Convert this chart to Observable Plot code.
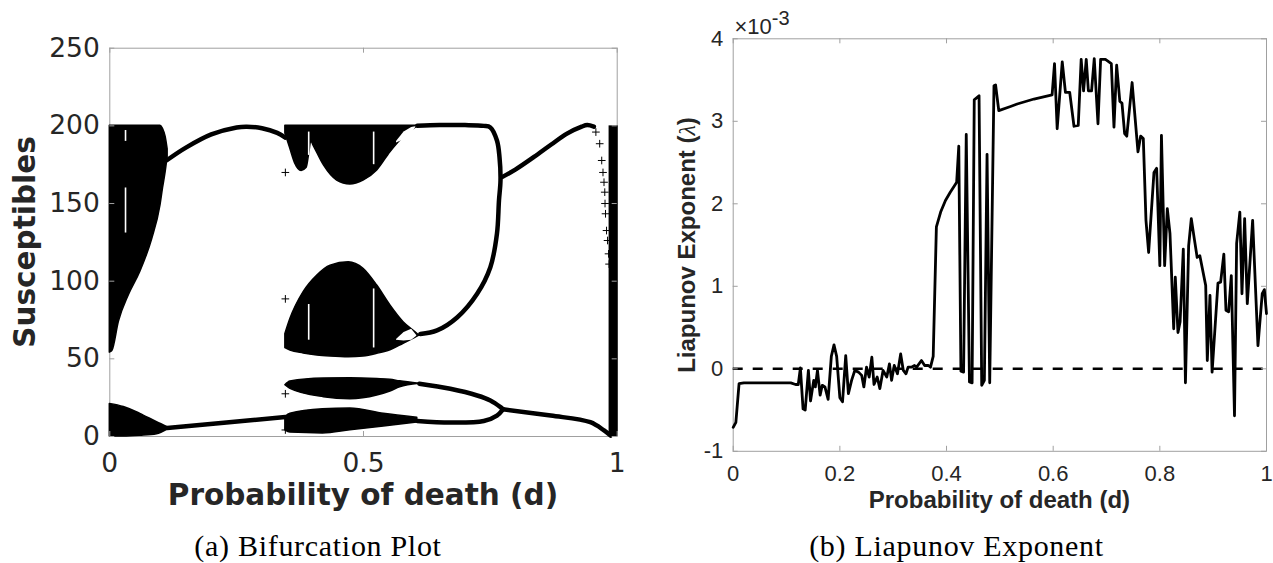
<!DOCTYPE html>
<html>
<head>
<meta charset="utf-8">
<script src="https://cdn.jsdelivr.net/npm/d3@7"></script>
<script src="https://cdn.jsdelivr.net/npm/@observablehq/plot@0.6"></script>
<style>
  body { margin: 0; background: #fff; }
  #wrap { position: relative; width: 1273px; height: 563px; overflow: hidden; background: #fff; }
  .panel { position: absolute; top: 0; height: 563px; }
  .t { position: absolute; white-space: nowrap; line-height: 1; transform: translate(-50%, -50%); color: #262626; }
  .lsans { font-family: "DejaVu Sans", sans-serif; font-weight: bold; font-size: 29.5px; }
  .rsans { font-family: "Liberation Sans", Arial, sans-serif; font-weight: bold; font-size: 24px; }
  .cap { font-family: "Liberation Serif", "Times New Roman", serif; font-size: 30px; letter-spacing: 0.7px; color: #000; }
</style>
</head>
<body>
<div id="wrap">
  <div id="left" class="panel" style="left:0;width:640px"></div>
  <div id="right" class="panel" style="left:640px;width:633px"></div>

  <div class="t lsans" style="left:26.4px;top:241.8px;transform:translate(-50%,-50%) rotate(-90deg)">Susceptibles</div>
  <div class="t lsans" style="left:363px;top:496px">Probability of death (d)</div>
  <div class="t cap" style="left:318px;top:546px">(a) Bifurcation Plot</div>

  <div class="t rsans" style="left:686.5px;top:244.5px;transform:translate(-50%,-50%) rotate(-90deg)">Liapunov Exponent (<span style="font-family:'Liberation Serif',serif;font-style:italic;font-weight:normal">λ</span>)</div>
  <div class="t rsans" style="left:999.4px;top:500px">Probability of death (d)</div>
  <div style="position:absolute;left:734.5px;top:16px;font-family:'Liberation Sans',Arial,sans-serif;font-size:22px;color:#262626;white-space:nowrap;line-height:1">×10<span style="font-size:20px;position:relative;top:-9px">-3</span></div>
  <div class="t cap" style="left:956.5px;top:546px">(b) Liapunov Exponent</div>
</div>

<script>
// ---------------- Panel (a): bifurcation diagram ----------------
const xTicksA = [0, 0.5, 1];
const yTicksA = [0, 50, 100, 150, 200, 250];

// chaotic band, low d, upper part
const bandUL_d  = [0, 0.005, 0.018, 0.0375, 0.06, 0.0835, 0.1, 0.105, 0.11, 0.114];
const bandUL_lo = [54, 55, 74, 91, 106, 127, 149, 160, 170, 180];
const bandUL_hi = [200, 200, 200, 200, 200, 200, 200, 198, 193, 185];
// chaotic band, low d, lower part
const bandLL_d  = [0, 0.0276, 0.06, 0.093, 0.114];
const bandLL_lo = [0, 0, 0.5, 1.5, 4.5];
const bandLL_hi = [21, 19, 14.6, 9.2, 6];
// middle chaotic region, top bowl
const bowl_d  = [0.346, 0.355, 0.365, 0.378, 0.388, 0.393, 0.397, 0.402, 0.422, 0.448, 0.474, 0.5, 0.527, 0.553, 0.579, 0.606];
const bowl_lo = [195, 186, 176, 171, 173, 182, 190, 187, 174.5, 164.8, 162.3, 164.8, 171.3, 183, 192.7, 199.5];
const bowl_hi = [200, 200, 200, 200, 200, 200, 200, 200, 200, 200, 200, 200, 200, 200, 200, 200];
// middle chaotic region, bump
const bump_d  = [0.346, 0.356, 0.382, 0.409, 0.435, 0.471, 0.5, 0.527, 0.553, 0.579, 0.602, 0.61];
const bump_lo = [57, 55.4, 53.5, 52.2, 51.5, 51, 51.5, 53.2, 55.5, 59.7, 63.5, 65];
const bump_hi = [66, 75.8, 93, 103.7, 110, 112.2, 108, 97.2, 84.4, 73.6, 67.2, 65];
// band near 30
const bandA_d  = [0.346, 0.356, 0.422, 0.474, 0.527, 0.553, 0.572, 0.61];
const bandA_lo = [33, 30.7, 25.3, 24, 26.4, 29, 31.7, 34];
const bandA_hi = [33, 35.4, 37.3, 37.5, 37, 36.5, 35.5, 34];
// band near 10
const bandB_d  = [0.346, 0.356, 0.42, 0.474, 0.54, 0.606];
const bandB_lo = [3.9, 2.5, 2, 4, 6.5, 9];
const bandB_hi = [12.5, 14.6, 17.5, 18, 14.6, 12];
// right chaotic strip
const strip_d = [0.984, 1.002];
const strip_s = [0, 200];

// periodic branches (curves)
const c1_d = [0.113, 0.15, 0.2, 0.25, 0.27, 0.3, 0.33, 0.346];
const c1_s = [178, 186, 194.5, 199, 199.5, 198.5, 195.5, 192.5];
const c2_d = [0.113, 0.23, 0.346];
const c2_s = [5.5, 9, 12.5];
const c3_d = [0.606, 0.65, 0.7, 0.737, 0.75, 0.763, 0.768, 0.770, 0.767, 0.763, 0.75, 0.724, 0.685, 0.645, 0.612];
const c3_s = [200, 200.5, 200.5, 200, 199, 190.6, 180, 165, 152, 130.5, 109, 91.9, 76.8, 68.3, 66];
const c4_d = [0.773, 0.8, 0.836, 0.87, 0.901, 0.93, 0.941, 0.954];
const c4_s = [167, 172, 180, 188, 195, 199.5, 200.5, 199.5];
const c5_d = [0.61, 0.671, 0.724, 0.75, 0.77, 0.775];
const c5_s = [34, 30.7, 26.4, 23.2, 18.9, 17.5];
const c6_d = [0.606, 0.671, 0.737, 0.763, 0.775];
const c6_s = [10, 9, 10, 13.5, 17.5];
const c7_d = [0.775, 0.869, 0.947, 0.974, 0.987];
const c7_s = [17.5, 13.5, 9.2, 3.9, 0.6];

// isolated "+" markers
const plus_d = [0.346, 0.346, 0.346, 0.346, 0.958, 0.9655, 0.9695, 0.972, 0.974, 0.9755, 0.976, 0.977, 0.979, 0.981, 0.983, 0.984];
const plus_s = [170, 88.6, 27.5, 4.2, 196, 188.5, 177.7, 170, 163.7, 157.3, 150, 143.4, 132.6, 126.2, 117.6, 111];

// white gaps (periodic windows inside chaotic regions)
const gap_d  = [0.031, 0.031, 0.392, 0.392, 0.52, 0.52];
const gap_lo = [131, 190, 181, 62, 175, 57];
const gap_hi = [160, 197, 196, 85, 196, 95];
// small white windows near the end of the middle chaotic region
const winU_d  = [0.565, 0.58, 0.595, 0.603];
const winU_lo = [189, 191, 195, 199];
const winU_hi = [190, 196, 199, 199.5];
const winL_d  = [0.565, 0.58, 0.595, 0.605];
const winL_lo = [62, 61.5, 62, 64.5];
const winL_hi = [62.5, 67, 69, 65];

// ---------------- Panel (b): Liapunov exponent ----------------
const xTicksB = [0, 0.2, 0.4, 0.6, 0.8, 1];
const yTicksB = [-1, 0, 1, 2, 3, 4];
const lyap_d = [0, .005, .011, .02, .05, .08, .108, .117, .122, .126, .131, .135, .141, .145, .151, .154, .158, .163, .167, .172, .178, .184, .189, .194, .2, .205, .211, .216, .222, .228, .235, .241, .245, .25, .255, .26, .264, .27, .275, .281, .288, .293, .297, .302, .308, .311, .314, .319, .324, .328, .334, .34, .344, .353, .359, .366, .37, .375, .381, .389, .398, .407, .417, .419, .423, .427, .432, .437, .443, .448, .452, .461, .466, .471, .476, .481, .489, .492, .498, .52, .5325, .564, .598, .6025, .6075, .617, .623, .631, .639, .647, .6525, .657, .662, .666, .672, .677, .684, .689, .698, .709, .714, .719, .725, .729, .734, .738, .748, .759, .764, .769, .774, .779, .789, .794, .80, .803, .809, .814, .819, .826, .829, .834, .838, .844, .848, .854, .859, .865, .87, .875, .886, .889, .894, .898, .909, .914, .92, .924, .929, .934, .94, .944, .95, .954, .959, .964, .974, .984, .992, .996, 1.0];
// exponent values in units of 1e-3
const lyap_v = [-0.71, -0.65, -0.18, -0.17, -0.17, -0.17, -0.17, -0.19, -0.19, 0.01, -0.485, -0.5, -0.02, -0.39, -0.14, -0.22, -0.02, -0.32, -0.2, -0.22, -0.37, 0.15, 0.29, 0.15, -0.35, -0.4, 0.16, -0.3, -0.14, -0.02, -0.04, -0.08, -0.22, 0.02, -0.1, 0.14, -0.19, -0.1, -0.24, -0.02, -0.1, 0.06, -0.14, 0.04, -0.06, 0.06, 0.18, -0.02, -0.06, 0.02, 0.02, 0.04, 0.02, 0.1, 0.04, 0.04, 0.02, 0.15, 1.72, 1.9, 2.04, 2.14, 2.24, 2.26, 2.7, -0.03, -0.04, 2.84, -0.16, -0.17, 3.26, 3.31, -0.2, -0.14, 2.6, -0.17, 3.43, 3.44, 3.13, 3.18, 3.21, 3.27, 3.32, 3.70, 2.91, 3.72, 3.35, 3.35, 2.94, 2.95, 3.75, 3.37, 3.75, 3.37, 3.37, 3.76, 2.97, 3.75, 3.75, 3.70, 2.93, 3.68, 3.24, 3.22, 2.85, 2.82, 3.47, 2.63, 2.82, 2.79, 1.8, 1.41, 2.38, 2.43, 1.25, 2.83, 1.25, 1.94, 1.64, 0.485, 1.11, 0.44, 0.57, 1.45, -0.17, 1.49, 1.82, 1.56, 1.35, 1.37, 1.01, 0.1, 0.89, -0.04, 1.04, 1.05, 1.39, 0.71, 0.69, 1.13, -0.57, 1.52, 1.9, 0.91, 1.82, 0.79, 1.8, 0.28, 0.91, 0.96, 0.67];

// ---------------- helpers ----------------
const toArea = (d, lo, hi) => d.map((x, i) => ({x, lo: lo[i], hi: hi[i]}));
const toLine = (d, s) => d.map((x, i) => ({x, y: s[i]}));

// ---------------- draw panel (a) ----------------
{
  const W = 640, H = 563, m = {left: 109.3, right: 23.3, top: 47.7, bottom: 127};
  const iw = W - m.left - m.right, ih = H - m.top - m.bottom;
  const frameColor = "#a0a0a0";
  const areas = [
    [bandUL_d, bandUL_lo, bandUL_hi], [bandLL_d, bandLL_lo, bandLL_hi],
    [bowl_d, bowl_lo, bowl_hi], [bump_d, bump_lo, bump_hi],
    [bandA_d, bandA_lo, bandA_hi], [bandB_d, bandB_lo, bandB_hi]
  ];
  const curves = [[c1_d, c1_s], [c2_d, c2_s], [c3_d, c3_s], [c4_d, c4_s], [c5_d, c5_s], [c6_d, c6_s], [c7_d, c7_s]];
  const plot = Plot.plot({
    width: W, height: H,
    marginLeft: m.left, marginRight: m.right, marginTop: m.top, marginBottom: m.bottom,
    style: {fontFamily: "'DejaVu Sans', sans-serif", color: "#262626", background: "white", overflow: "visible"},
    x: {domain: [0, 1]},
    y: {domain: [0, 250]},
    marks: [
      Plot.frame({stroke: frameColor, strokeWidth: 1}),
      ...areas.map(([d, lo, hi]) => Plot.areaY(toArea(d, lo, hi), {x: "x", y1: "lo", y2: "hi", fill: "black", stroke: "black", strokeWidth: 1.5, curve: "monotone-x"})),
      ...curves.map(([d, s]) => Plot.line(toLine(d, s), {x: "x", y: "y", stroke: "black", strokeWidth: 4.5, curve: "catmull-rom"})),
      Plot.rect([{x1: strip_d[0], x2: strip_d[1], y1: strip_s[0], y2: strip_s[1]}], {x1: "x1", x2: "x2", y1: "y1", y2: "y2", fill: "black"}),
      Plot.ruleX(gap_d.map((x, i) => ({x, lo: gap_lo[i], hi: gap_hi[i]})), {x: "x", y1: "lo", y2: "hi", stroke: "white", strokeWidth: 1.6}),
      Plot.areaY(toArea(winU_d, winU_lo, winU_hi), {x: "x", y1: "lo", y2: "hi", fill: "white", curve: "linear"}),
      Plot.areaY(toArea(winL_d, winL_lo, winL_hi), {x: "x", y1: "lo", y2: "hi", fill: "white", curve: "linear"}),
      Plot.dot(toLine(plus_d, plus_s), {x: "x", y: "y", symbol: "plus", r: 2.6, stroke: "black", strokeWidth: 1}),
      Plot.tickX(xTicksA, {x: d => d, insetTop: ih - 5, stroke: frameColor}),
      Plot.tickX(xTicksA, {x: d => d, insetBottom: ih - 5, stroke: frameColor}),
      Plot.tickY(yTicksA, {y: d => d, insetRight: iw - 5, stroke: frameColor}),
      Plot.tickY(yTicksA, {y: d => d, insetLeft: iw - 5, stroke: frameColor}),
      Plot.axisX({ticks: xTicksA, tickSize: 0, tickPadding: 17, fontSize: 26.5, tickFormat: d => String(d), label: null, fill: "#262626"}),
      Plot.axisY({ticks: yTicksA, tickSize: 0, tickPadding: 10, fontSize: 26.5, tickFormat: d => String(d), label: null, fill: "#262626"})
    ]
  });
  document.getElementById("left").appendChild(plot);
}

// ---------------- draw panel (b) ----------------
{
  const W = 633, H = 563, m = {left: 92.7, right: 7, top: 38.3, bottom: 112.2};
  const iw = W - m.left - m.right, ih = H - m.top - m.bottom;
  const frameColor = "#a0a0a0";
  const plot = Plot.plot({
    width: W, height: H,
    marginLeft: m.left, marginRight: m.right, marginTop: m.top, marginBottom: m.bottom,
    style: {fontFamily: "'Liberation Sans', Arial, sans-serif", color: "#262626", background: "white", overflow: "visible"},
    x: {domain: [0, 1]},
    y: {domain: [-1, 4]},
    marks: [
      Plot.frame({stroke: frameColor, strokeWidth: 1}),
      Plot.ruleY([0], {stroke: "black", strokeWidth: 2.6, strokeDasharray: "10,10"}),
      Plot.line(toLine(lyap_d, lyap_v), {x: "x", y: "y", stroke: "black", strokeWidth: 2.8, strokeLinejoin: "round"}),
      Plot.tickX(xTicksB, {x: d => d, insetTop: ih - 5, stroke: frameColor}),
      Plot.tickX(xTicksB, {x: d => d, insetBottom: ih - 5, stroke: frameColor}),
      Plot.tickY(yTicksB, {y: d => d, insetRight: iw - 5, stroke: frameColor}),
      Plot.tickY(yTicksB, {y: d => d, insetLeft: iw - 5, stroke: frameColor}),
      Plot.axisX({ticks: xTicksB, tickSize: 0, tickPadding: 14, fontSize: 22, tickFormat: d => String(d), label: null, fill: "#262626"}),
      Plot.axisY({ticks: yTicksB, tickSize: 0, tickPadding: 10, fontSize: 22, tickFormat: d => String(d), label: null, fill: "#262626"})
    ]
  });
  document.getElementById("right").appendChild(plot);
}
</script>
</body>
</html>
